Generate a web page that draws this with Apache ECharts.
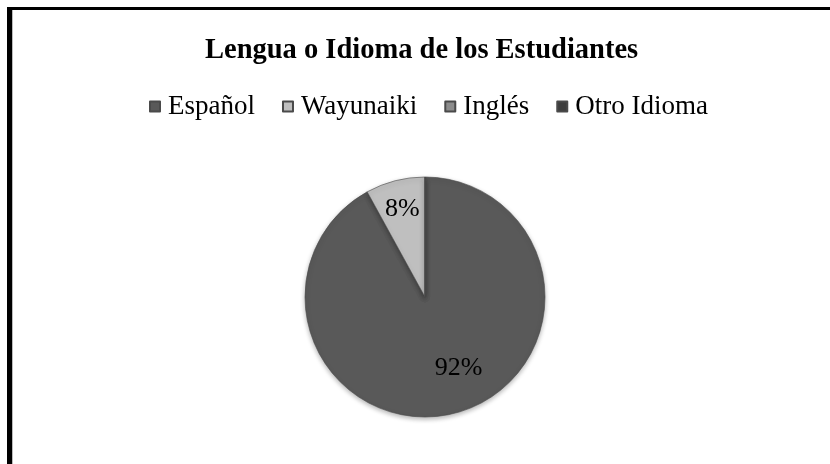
<!DOCTYPE html>
<html>
<head>
<meta charset="utf-8">
<script src="https://cdn.jsdelivr.net/npm/echarts@6/dist/echarts.min.js"></script>
<style>
  html, body { margin: 0; padding: 0; background: #fff; }
  #chart { width: 830px; height: 464px; }
</style>
</head>
<body>
<div id="chart"></div>
<script>
  var languages = ['Español', 'Wayunaiki', 'Inglés', 'Otro Idioma'];
  var shares = [92, 8, 0, 0];

  var colors = ['#595959', '#bfbfbf', '#8c8c8c', '#3d3d3d'];
  // label nudges (Excel puts them further out than ECharts)
  var labelShift = [[18, 10], [-7, -27], [0, 0], [0, 0]];

  var chart = echarts.init(document.getElementById('chart'));

  var pieData = languages.map(function (name, i) {
    return {
      name: name,
      value: shares[i],
      label: { show: shares[i] > 0 }
    };
  });

  chart.setOption({
    animation: false,
    color: colors,
    title: {
      text: 'Lengua o Idioma de los Estudiantes',
      left: 200,
      top: 31,
      textStyle: {
        fontFamily: 'Liberation Serif',
        fontSize: 28.5,
        fontWeight: 'bold',
        color: '#000'
      }
    },
    legend: {
      left: 144,
      top: 88,
      icon: 'rect',
      itemWidth: 10,
      itemHeight: 10,
      itemGap: 27,
      textStyle: {
        fontFamily: 'Liberation Serif',
        fontSize: 27,
        color: '#000',
        padding: [0, 0, 0, 3]
      },
      data: languages
    },
    graphic: [
      { type: 'rect', shape: { x: 7, y: 7, width: 823, height: 3 }, style: { fill: '#000' } },
      { type: 'rect', shape: { x: 7, y: 7, width: 5, height: 457 }, style: { fill: '#000' } },
      { type: 'rect', shape: { x: 12, y: 10, width: 1, height: 454 }, style: { fill: '#bbb' } }
    ],
    series: [{
      type: 'pie',
      center: [425, 297],
      radius: 120,
      startAngle: 90,
      clockwise: true,
      stillShowZeroSum: false,
      itemStyle: {
        borderColor: '#4a4a4a',
        borderWidth: 0.6,
        shadowBlur: 5,
        shadowOffsetY: 2,
        shadowColor: 'rgba(0,0,0,0.3)'
      },
      label: {
        position: 'inside',
        fontFamily: 'Liberation Serif',
        fontSize: 26,
        color: '#000',
        formatter: function (p) { return p.value ? Math.round(p.percent) + '%' : ''; }
      },
      labelLayout: function (p) {
        var s = labelShift[p.dataIndex];
        return { dx: s[0], dy: s[1] };
      },
      labelLine: { show: false },
      emphasis: { disabled: true },
      data: pieData
    }]
  });
</script>
</body>
</html>
